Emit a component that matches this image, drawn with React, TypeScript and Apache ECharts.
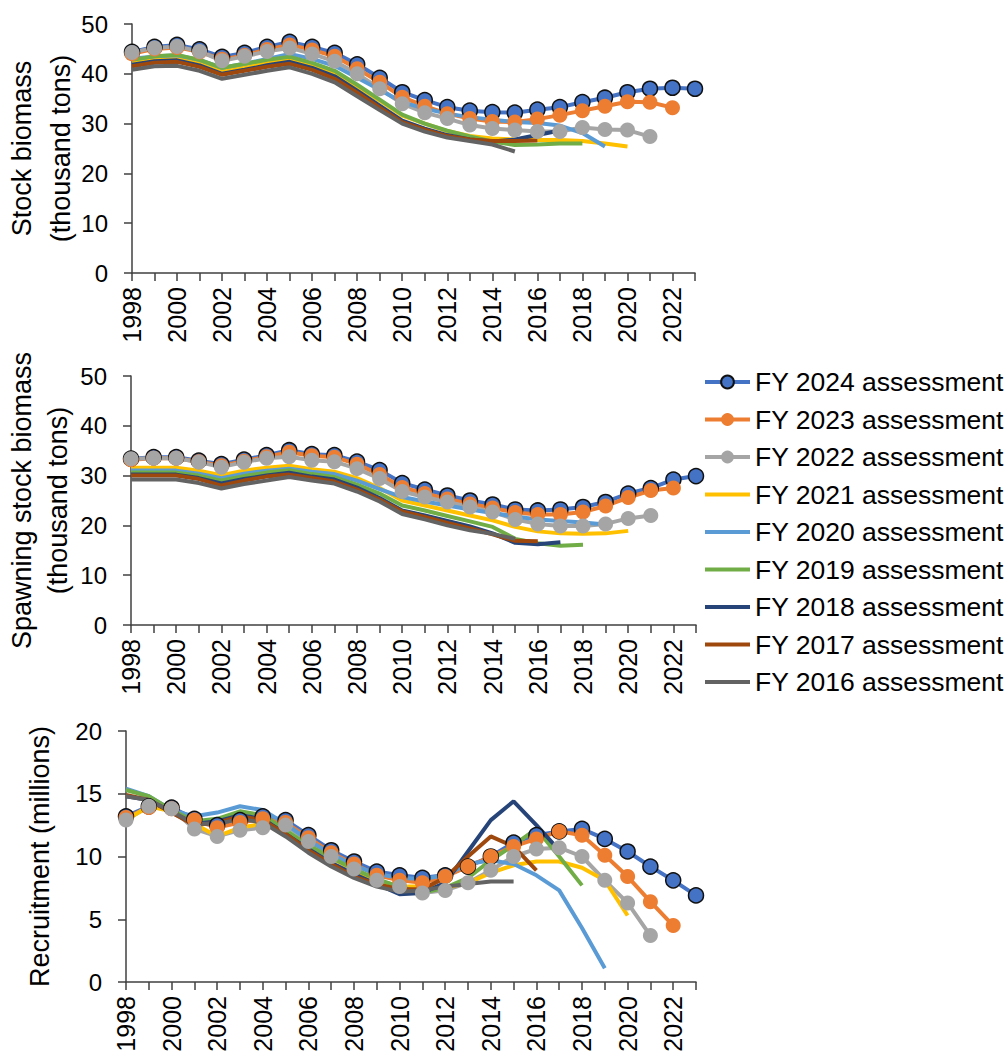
import React, { useEffect, useRef } from "react";
import * as echarts from "echarts";

const years = ["1998","1999","2000","2001","2002","2003","2004","2005","2006","2007","2008","2009","2010","2011","2012","2013","2014","2015","2016","2017","2018","2019","2020","2021","2022","2023"];

const seriesNames = ["FY 2024 assessment","FY 2023 assessment","FY 2022 assessment","FY 2021 assessment","FY 2020 assessment","FY 2019 assessment","FY 2018 assessment","FY 2017 assessment","FY 2016 assessment"];
const seriesColors = ["#4472C4","#ED7D31","#A5A5A5","#FFC000","#5B9BD5","#70AD47","#264478","#9E480E","#636363"];

// Stock biomass (thousand tons)
const sb2024 = [44.4,45.4,45.8,44.9,43.4,44.2,45.4,46.4,45.4,44.2,41.9,39.2,36.3,34.7,33.3,32.6,32.3,32.2,32.8,33.3,34.3,35.2,36.3,37.0,37.2,37.0];
const sb2023 = [44.0,45.0,45.3,44.4,42.9,43.7,44.9,45.8,44.8,43.5,41.0,38.3,35.3,33.5,32.0,31.0,30.4,30.3,30.9,31.7,32.6,33.5,34.4,34.3,33.2];
const sb2022 = [44.3,45.2,45.5,44.5,42.6,43.5,44.5,45.2,44.0,42.5,40.0,37.0,34.0,32.2,31.0,29.7,29.0,28.7,28.4,28.4,29.2,28.8,28.7,27.4];
const sb2021 = [42.5,43.0,43.2,42.2,40.5,41.3,42.3,43.0,41.8,40.2,37.5,34.6,31.6,30.0,28.5,27.5,27.0,26.8,26.7,26.7,26.5,26.0,25.4];
const sb2020 = [43.0,43.5,43.7,42.8,41.2,42.0,43.0,44.0,43.0,41.6,39.2,36.8,34.3,33.0,32.0,31.3,30.8,30.3,30.1,29.6,28.1,25.4];
const sb2019 = [42.8,43.5,43.8,42.8,41.2,42.0,42.8,43.4,42.2,40.6,37.8,34.8,31.8,30.0,28.6,27.4,26.4,25.7,25.8,26.0,26.0];
const sb2018 = [41.8,42.5,42.7,41.7,40.0,40.8,41.7,42.4,41.2,39.5,36.6,33.6,30.6,29.0,27.7,26.8,26.4,26.8,27.7,28.6];
const sb2017 = [41.5,42.2,42.4,41.4,39.8,40.6,41.4,42.0,40.8,39.0,36.2,33.2,30.3,28.8,27.5,26.8,26.5,26.5,26.6];
const sb2016 = [40.8,41.5,41.6,40.6,39.0,39.8,40.6,41.3,40.0,38.3,35.5,32.7,30.0,28.4,27.2,26.5,25.8,24.4];

// Spawning stock biomass (thousand tons)
const ssb2024 = [33.4,33.7,33.7,33.0,32.3,33.2,34.1,35.1,34.3,34.1,32.8,31.1,28.5,27.2,26.0,25.0,24.2,23.2,23.0,23.2,23.7,24.7,26.4,27.5,29.2,29.9];
const ssb2023 = [33.2,33.5,33.5,32.8,32.0,32.9,33.8,34.7,34.0,33.7,32.3,30.2,27.6,26.4,25.3,24.3,23.5,22.6,22.2,22.2,22.7,23.9,25.6,27.0,27.5];
const ssb2022 = [33.4,33.5,33.5,32.7,31.7,32.7,33.5,33.8,33.1,32.8,31.4,29.4,26.8,25.7,24.7,23.7,22.7,21.2,20.3,19.9,19.9,20.3,21.4,22.0];
const ssb2021 = [31.6,31.6,31.6,31.0,30.1,31.0,31.6,32.0,31.3,30.8,29.5,27.5,25.0,24.0,23.0,22.0,21.0,19.7,18.8,18.4,18.3,18.4,18.9];
const ssb2020 = [31.0,31.0,31.0,30.4,29.5,30.4,31.0,31.4,30.8,30.3,29.0,27.3,25.7,24.8,24.0,23.2,22.5,21.8,21.2,20.9,20.6,20.2];
const ssb2019 = [30.6,30.6,30.6,30.0,29.0,29.9,30.6,31.1,30.3,29.7,28.2,26.4,24.0,23.0,21.9,20.8,19.7,17.3,16.4,15.9,16.1];
const ssb2018 = [30.2,30.2,30.2,29.5,28.4,29.3,30.0,30.6,29.8,29.2,27.6,25.5,23.0,22.0,20.9,19.8,18.4,16.5,16.2,16.6];
const ssb2017 = [30.0,30.0,30.0,29.3,28.0,29.0,29.8,30.2,29.5,28.8,27.2,25.2,22.8,21.7,20.5,19.4,18.2,16.9,16.8];
const ssb2016 = [29.2,29.2,29.2,28.5,27.4,28.3,29.0,29.7,29.0,28.4,26.8,24.8,22.3,21.2,20.0,19.0,18.3,17.3];

// Recruitment (millions)
const rec2024 = [13.2,14.0,13.9,13.0,12.5,12.9,13.2,12.9,11.7,10.5,9.6,8.8,8.5,8.3,8.5,9.2,10.0,11.1,11.7,12.0,12.2,11.4,10.4,9.2,8.1,6.9];
const rec2023 = [13.1,13.9,13.8,12.9,12.3,12.7,13.0,12.7,11.5,10.3,9.4,8.5,8.1,7.9,8.4,9.2,10.0,10.8,11.4,12.0,11.7,10.1,8.4,6.4,4.5];
const rec2022 = [12.9,14.0,13.8,12.2,11.6,12.1,12.3,12.5,11.2,10.0,9.0,8.1,7.6,7.1,7.3,7.9,8.9,10.0,10.6,10.7,10.0,8.1,6.3,3.7];
const rec2021 = [12.9,14.0,13.6,12.6,11.6,12.3,12.6,12.0,10.9,9.9,8.9,8.1,7.6,7.6,7.5,7.9,8.7,9.3,9.6,9.6,9.1,8.1,5.3];
const rec2020 = [15.4,14.8,13.7,13.2,13.5,14.0,13.7,12.6,11.3,10.2,9.3,8.6,8.3,8.2,8.5,9.4,9.7,9.4,8.5,7.3,4.3,1.1];
const rec2019 = [15.3,14.8,13.7,12.8,13.0,13.6,13.3,12.1,10.9,9.9,9.0,8.2,7.6,7.1,7.5,8.3,9.7,10.9,12.2,10.0,7.7];
const rec2018 = [14.8,14.5,13.5,12.6,12.8,13.3,13.0,11.8,10.6,9.5,8.6,7.8,7.0,7.1,7.9,10.4,12.9,14.4,12.5,10.5];
const rec2017 = [14.9,14.5,13.5,12.5,12.7,13.2,12.9,11.8,10.5,9.4,8.4,7.8,7.4,7.4,8.3,10.0,11.6,10.8,8.9];
const rec2016 = [14.8,14.5,13.6,12.6,12.6,13.0,12.7,11.6,10.3,9.2,8.3,7.6,7.2,7.3,7.6,7.8,8.0,8.0];

const sbData = [sb2024, sb2023, sb2022, sb2021, sb2020, sb2019, sb2018, sb2017, sb2016];
const ssbData = [ssb2024, ssb2023, ssb2022, ssb2021, ssb2020, ssb2019, ssb2018, ssb2017, ssb2016];
const recData = [rec2024, rec2023, rec2022, rec2021, rec2020, rec2019, rec2018, rec2017, rec2016];

const FONT = "'Liberation Sans', Arial, sans-serif";
const AXIS_COLOR = "#404040";

function hasMarker(i: number) {
  return i <= 2;
}

function makeSeries(dataSets: number[][], gridIndex: number) {
  return dataSets.map((d, i) => {
    const color = seriesColors[i];
    const base: any = {
      name: seriesNames[i],
      type: "line",
      xAxisIndex: gridIndex,
      yAxisIndex: gridIndex,
      data: d,
      lineStyle: { color, width: 4 },
      itemStyle: { color },
      emphasis: { disabled: true },
      showAllSymbol: true,
      z: 2,
    };
    if (i === 0) {
      base.symbol = "circle";
      base.symbolSize = 15;
      base.itemStyle = { color, borderColor: "#111", borderWidth: 1.5 };
    } else if (hasMarker(i)) {
      base.symbol = "circle";
      base.symbolSize = 15;
      base.itemStyle = { color, borderWidth: 0 };
    } else {
      base.symbol = "none";
    }
    return base;
  });
}

function xAxis(gridIndex: number) {
  return {
    type: "category",
    gridIndex,
    data: years,
    boundaryGap: false,
    axisLine: { lineStyle: { color: AXIS_COLOR, width: 1.5 } },
    axisTick: { show: true, interval: 0, length: 8, lineStyle: { color: AXIS_COLOR, width: 1.5 } },
    axisLabel: { interval: 1, rotate: 90, fontSize: 25, color: "#000", fontFamily: FONT, margin: 14 },
    splitLine: { show: false },
  };
}

function yAxis(gridIndex: number, max: number, interval: number, name: string, nameGap: number, lineHeight: number) {
  return {
    type: "value",
    gridIndex,
    min: 0,
    max,
    interval,
    name,
    nameLocation: "middle",
    nameRotate: 90,
    nameGap,
    nameMoveOverlap: false,
    nameTextStyle: { fontSize: 27, color: "#000", fontFamily: FONT, lineHeight, align: "center" },
    axisLine: { show: true, lineStyle: { color: AXIS_COLOR, width: 1.5 } },
    axisTick: { show: true, length: 8, lineStyle: { color: AXIS_COLOR, width: 1.5 } },
    axisLabel: { fontSize: 24, color: "#000", fontFamily: FONT, margin: 24 },
    splitLine: { show: false },
  };
}

const legendData = seriesNames.map((name, i) =>
  hasMarker(i)
    ? { name }
    : { name, itemStyle: { color: "rgba(0,0,0,0)", borderColor: "rgba(0,0,0,0)", borderWidth: 0, opacity: 0 } }
);

export default function App() {
  const ref = useRef<HTMLDivElement>(null);
  useEffect(() => {
    if (!ref.current) return;
    const chart = echarts.init(ref.current, undefined, { renderer: "svg" });
    chart.setOption({
      animation: false,
      backgroundColor: "#fff",
      textStyle: { fontFamily: FONT },
      grid: [
        { left: 132, top: 24, width: 563, height: 249, containLabel: false, outerBoundsMode: "none" },
        { left: 131, top: 376, width: 565, height: 249, containLabel: false, outerBoundsMode: "none" },
        { left: 126, top: 731, width: 570, height: 251, containLabel: false, outerBoundsMode: "none" },
      ],
      xAxis: [xAxis(0), xAxis(1), xAxis(2)],
      yAxis: [
        yAxis(0, 50, 10, "Stock biomass\n(thousand tons)", 52, 39),
        yAxis(1, 50, 10, "Spawning stock biomass\n(thousand tons)", 55, 36),
        yAxis(2, 20, 5, "Recruitment (millions)", 71, 30),
      ],
      legend: {
        orient: "vertical",
        left: 703,
        top: 367,
        padding: 0,
        data: legendData,
        itemWidth: 45,
        itemHeight: 16,
        itemGap: 7.5,
        selectedMode: false,
        lineStyle: { width: 4 },
        textStyle: { fontSize: 26.5, color: "#000", fontFamily: FONT, lineHeight: 30 },
      },
      series: [...makeSeries(sbData, 0), ...makeSeries(ssbData, 1), ...makeSeries(recData, 2)],
    });
    return () => chart.dispose();
  }, []);
  return (
    <div
      ref={ref}
      style={{ position: "fixed", left: 0, top: 0, width: 1008, height: 1055, background: "#fff" }}
    />
  );
}
